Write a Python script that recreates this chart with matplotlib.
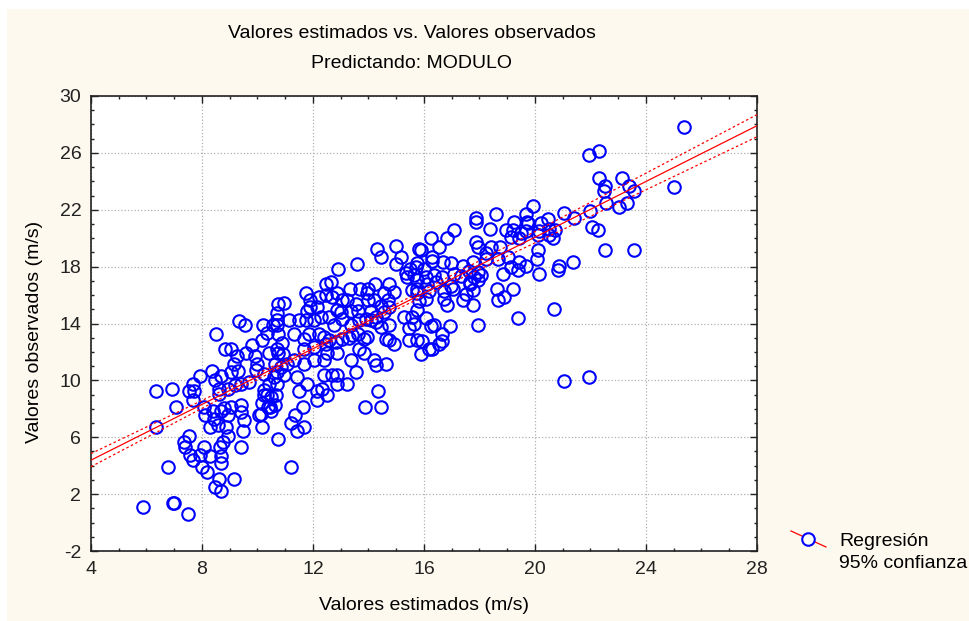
import matplotlib
matplotlib.use("Agg")
import matplotlib.pyplot as plt
from matplotlib.lines import Line2D
from matplotlib.patches import Rectangle
import numpy as np

plt.rcParams['font.family'] = ['Liberation Sans', 'DejaVu Sans']
plt.rcParams['axes.unicode_minus'] = False

# valores estimados (x) y observados (y)
est = [5.89, 6.94, 7.0, 7.51, 6.79, 6.35, 6.93, 7.08, 6.34, 7.92, 7.68, 7.53, 7.71, 7.66, 7.53, 7.36, 7.39, 7.58, 7.68, 7.93,
       8.08, 7.99, 8.18, 8.3, 8.66, 8.68, 8.68, 8.76, 8.61, 8.48, 8.68, 9.14, 9.41, 8.06, 8.36, 8.5, 9.35, 9.55, 8.48, 8.62,
       8.7, 8.83, 9.05, 9.26, 9.17, 9.31, 9.05, 8.6, 8.92, 8.11, 8.38, 8.68, 8.92, 9.05, 8.8, 8.3, 8.59, 8.86, 8.95, 8.44,
       9.41, 9.5, 9.47, 9.41, 9.19, 9.41, 9.71, 9.59, 9.91, 9.79, 10.13, 10.15, 10.15, 10.37, 10.49, 10.07, 10.73, 10.19, 10.55, 10.34,
       10.7, 10.73, 10.15, 10.43, 10.73, 10.63, 10.0, 9.95, 10.22, 10.43, 10.61, 10.69, 10.22, 10.34, 10.49, 10.67, 10.22, 10.64, 10.46, 10.73,
       10.69, 10.69,
       14.29, 14.98, 14.46, 15.16, 14.98, 15.82, 13.57, 12.91, 15.34, 15.49, 15.7, 15.76, 15.4, 15.64, 12.46, 12.66, 11.74, 13.33, 13.69, 13.98,
       14.22, 14.74, 13.96, 12.22, 12.46, 12.7, 12.85, 13.06, 13.24, 11.89, 11.89, 11.77, 12.16, 13.54, 13.62, 13.98, 14.2, 14.56, 14.7, 14.92,
       14.08, 14.26, 14.44, 14.74, 14.56, 12.85, 13.02, 13.36, 11.14, 11.5, 10.95, 11.74, 12.04, 12.28, 12.58, 12.76, 13.06, 13.36, 13.66, 13.9,
       14.08, 14.26, 14.44, 14.74, 15.28, 15.58, 15.76, 15.64, 15.46, 15.76, 15.74, 15.58, 15.76, 15.82, 15.46, 15.76, 15.88, 14.62, 14.74, 14.92,
       10.89, 10.93, 11.32, 11.68, 11.86, 12.22, 12.4, 12.58, 11.68, 12.04, 12.46, 12.82, 13.06, 13.3, 13.42, 13.62, 13.84, 13.96, 13.66, 13.84,
       12.88, 12.52, 12.4, 13.36, 13.54, 14.2, 14.26, 14.62, 11.08, 11.32, 11.68, 12.04, 11.44, 11.77, 10.95, 10.83, 12.4, 12.7, 12.88, 12.88,
       13.24, 12.16, 12.34, 12.52, 12.16, 11.5, 14.34, 13.86, 14.46, 11.65, 11.34, 11.22, 11.43, 11.67, 11.22, 10.71, 10.71,
       19.94, 18.59, 19.67, 19.71, 21.04, 20.48, 20.22, 20.16, 20.52, 20.72, 20.64, 20.52, 20.1, 17.89, 17.87, 18.38, 17.08, 18.95, 19.25, 19.19,
       19.49, 19.43, 19.13, 19.67, 19.73, 16.84, 16.54, 16.24, 15.88, 16.3, 16.3, 16.0, 16.06, 16.12, 16.18, 16.06, 16.06, 16.24, 15.94, 16.18,
       17.87, 17.93, 18.23, 18.41, 18.75, 18.23, 18.67, 19.01, 19.13, 19.43, 19.67, 19.4, 20.12, 20.07, 20.16, 20.88, 20.84, 21.36, 16.7, 16.96,
       17.39, 17.75, 17.63, 17.93, 18.05, 17.81, 17.66, 17.93, 18.83, 16.36, 16.66, 17.08, 17.33, 16.96, 16.42, 16.72, 16.72, 16.82, 17.06, 17.51,
       17.42, 17.75, 17.78, 17.66, 18.63, 18.67, 18.89, 19.22, 17.95, 19.4, 20.67, 21.06, 16.66, 16.54, 16.66, 16.3, 16.94, 16.36,
       25.36, 21.93, 22.29, 22.32, 23.14, 22.51, 22.47, 23.38, 23.58, 25.0, 22.57, 23.32, 23.02, 21.97, 21.39, 22.05, 22.26, 22.51, 23.58, 21.96]

obs = [1.06, 1.41, 1.41, 0.59, 3.93, 9.22, 9.41, 8.12, 6.71, 10.31, 9.72, 9.22, 9.22, 8.64, 6.12, 5.65, 5.29, 4.78, 4.4, 4.78,
       5.29, 3.93, 3.58, 4.71, 5.29, 4.71, 4.16, 5.65, 3.06, 2.52, 2.19, 3.06, 5.29, 8.12, 10.64, 13.29, 14.19, 13.88, 10.0, 9.41,
       10.28, 12.19, 12.19, 11.72, 11.13, 10.66, 10.59, 9.06, 9.41, 7.53, 7.88, 7.88, 7.53, 8.12, 8.07, 6.75, 6.89, 6.71, 6.12, 7.29,
       7.76, 7.18, 6.42, 8.24, 9.65, 9.72, 9.88, 11.93, 11.69, 12.52, 7.65, 6.75, 8.4, 8.16, 7.88, 7.53, 5.88, 13.88, 13.88, 13.34,
       13.88, 13.29, 12.87, 11.93, 11.93, 11.18, 11.18, 10.71, 10.42, 9.72, 10.24, 9.76, 8.94, 8.94, 8.82, 8.94, 9.34, 8.24, 8.12, 15.36,
       14.71, 14.24,
       19.22, 19.46, 18.66, 18.66, 18.16, 19.22, 18.16, 17.84, 17.58, 17.81, 18.0, 18.28, 17.25, 17.41, 16.75, 16.94, 16.16, 16.42, 16.42, 16.42,
       16.75, 16.75, 16.12, 15.84, 16.0, 15.84, 16.16, 15.65, 15.65, 15.65, 15.13, 14.89, 15.18, 15.36, 14.89, 15.65, 15.65, 16.16, 15.65, 16.24,
       14.89, 14.47, 15.22, 15.18, 14.82, 14.94, 14.82, 14.89, 14.24, 14.24, 15.41, 14.24, 14.24, 14.47, 14.47, 13.88, 14.35, 13.88, 14.24, 14.35,
       14.24, 14.12, 13.76, 13.88, 14.47, 14.47, 14.94, 14.0, 13.65, 17.06, 16.4, 16.35, 16.12, 15.6, 12.82, 12.82, 11.88, 12.94, 12.87, 12.54,
       12.64, 11.88, 13.29, 12.94, 13.29, 13.29, 13.06, 12.82, 12.24, 12.35, 12.54, 12.71, 12.94, 13.01, 13.18, 13.29, 12.94, 13.06, 12.24, 11.93,
       11.93, 11.93, 11.41, 11.41, 10.59, 11.41, 11.06, 11.13, 11.18, 11.41, 11.18, 11.41, 10.24, 9.72, 10.35, 10.94, 10.35, 10.35, 10.35, 9.72,
       9.72, 9.25, 9.41, 8.94, 8.59, 9.22, 9.22, 8.12, 8.12, 8.12, 7.53, 6.99, 6.42, 6.71, 3.93, 12.24, 10.59,
       22.24, 21.72, 21.72, 21.13, 21.76, 21.36, 21.06, 20.54, 20.66, 20.59, 20.02, 20.19, 20.19, 21.41, 21.13, 20.62, 20.59, 20.59, 21.13, 20.59,
       20.35, 20.02, 20.07, 20.54, 21.06, 20.02, 19.41, 20.02, 19.18, 18.71, 18.42, 17.84, 17.25, 16.78, 16.31, 15.72, 14.42, 13.84, 12.78, 12.19,
       19.72, 19.36, 18.94, 19.41, 19.41, 18.54, 18.54, 18.71, 18.0, 18.31, 18.07, 17.76, 19.18, 18.54, 17.48, 18.07, 17.76, 18.31, 18.31, 18.24,
       18.07, 18.31, 17.72, 17.6, 17.44, 17.25, 16.89, 17.06, 17.48, 17.44, 17.25, 17.48, 17.36, 16.66, 16.89, 16.31, 15.72, 15.32, 16.42, 16.07,
       15.65, 16.35, 15.32, 16.78, 16.42, 15.65, 15.84, 16.42, 13.91, 14.42, 15.01, 9.95, 13.25, 12.54, 12.78, 12.19, 13.84, 13.91,
       27.79, 25.84, 26.12, 24.24, 24.24, 23.65, 23.32, 23.65, 23.32, 23.6, 22.47, 22.49, 22.19, 21.88, 21.41, 20.82, 20.59, 19.2, 19.2, 10.26]

x_ticks = [4, 8, 12, 16, 20, 24, 28]
y_ticks = [-2, 2, 6, 10, 14, 18, 22, 26, 30]

# recta de regresion y banda del 95%
slope = 0.98
intercept = 0.47
band_center = 12.7
band_min = 0.15
band_growth = 0.05

x = np.array(est)
y = np.array(obs)

fig = plt.figure(figsize=(9.7, 6.21), dpi=100, facecolor="white")
fig.add_artist(Rectangle((7/970, 0), 1, 1 - 9/621, transform=fig.transFigure,
                         facecolor="#fdf9ee", edgecolor="none", zorder=-10))

ax = fig.add_axes([91/970, 1 - 551/621, 666/970, 455/621])
ax.set_facecolor("white")

ax.plot(x, y, "o", mfc="none", mec="#0000ff", ms=9, mew=1.5, zorder=3)

xl = np.linspace(4, 28, 200)
yl = intercept + slope * xl
hw = np.sqrt(band_min**2 + band_growth**2 * (xl - band_center)**2)
ax.plot(xl, yl, color="red", lw=0.9, zorder=4)
ax.plot(xl, yl + hw, color="red", lw=0.9, ls=(0, (2, 2)), zorder=4)
ax.plot(xl, yl - hw, color="red", lw=0.9, ls=(0, (2, 2)), zorder=4)

ax.set_xlim(4, 28)
ax.set_ylim(-2, 30)
ax.set_xticks(x_ticks)
ax.set_yticks(y_ticks)
ax.set_xticks(np.arange(4, 29, 1), minor=True)
ax.set_yticks(np.arange(-2, 31, 1), minor=True)
ax.tick_params(which="both", direction="in", top=True, right=True, labelsize=14, colors="#222222")
ax.tick_params(which="major", length=5, width=1, pad=7)
ax.tick_params(which="minor", length=2.5, width=1)
ax.grid(True, which="major", ls=":", color="#b0b0b0", lw=0.9)
for sp in ax.spines.values():
    sp.set_color("#222222")
    sp.set_linewidth(1.2)

fig.text(412/970, 1 - 33/621, "Valores estimados vs. Valores observados", ha="center", va="center", fontsize=14)
fig.text(412/970, 1 - 64/621, "Predictando: MODULO", ha="center", va="center", fontsize=14)
fig.text(424/970, 1 - 605/621, "Valores estimados (m/s)", ha="center", va="center", fontsize=14)
fig.text(35/970, 1 - 332/621, "Valores observados (m/s)", ha="center", va="center", fontsize=14, rotation=90)

# leyenda
fig.add_artist(Line2D([791/970, 826/970], [1 - 531/621, 1 - 547/621], color="red", lw=0.9, transform=fig.transFigure))
fig.add_artist(Line2D([808/970], [1 - 539/621], marker="o", mfc="white", mec="#0000ff", ms=9, mew=1.5,
                      transform=fig.transFigure))
fig.text(839/970, 1 - 541/621, "Regresión", ha="left", va="center", fontsize=14)
fig.text(839/970, 1 - 563/621, "95% confianza", ha="left", va="center", fontsize=14)

fig.savefig("out.png", dpi=100, facecolor=fig.get_facecolor())
